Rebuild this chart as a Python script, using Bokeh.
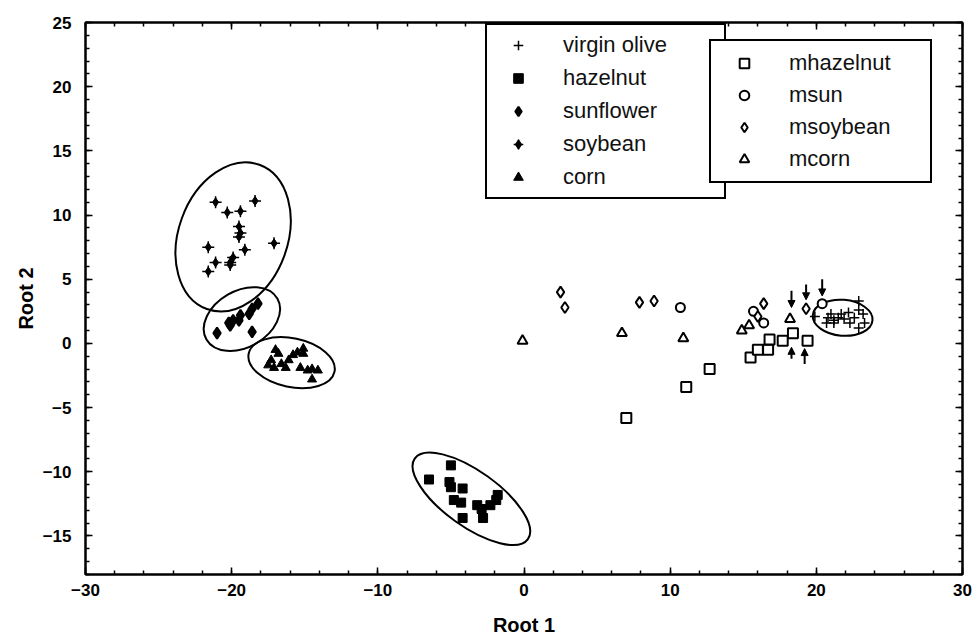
import numpy as np
from bokeh.plotting import figure
from bokeh.models import (ColumnDataSource, Range1d, LinearAxis, SingleIntervalTicker,
                          Legend, LegendItem, Arrow, NormalHead, CustomJSTickFormatter)
from bokeh.embed import file_html
from bokeh.resources import INLINE

# ---------------- data ----------------
olive_x = [19.9, 20.7, 20.8, 21.0, 21.2, 21.2, 21.5, 21.7, 21.9, 22.2, 22.3, 22.6, 22.9, 22.9, 22.9, 23.2, 23.3]
olive_y = [2.1, 1.6, 2.0, 2.3, 1.8, 1.6, 2.0, 2.3, 1.9, 2.4, 1.6, 2.0, 2.6, 1.2, 3.3, 2.3, 1.6]

hazel_x = [-5.0, -6.5, -5.1, -5.0, -4.2, -4.8, -4.3, -4.2, -3.2, -2.9, -2.8, -2.3, -1.8, -1.9]
hazel_y = [-9.5, -10.6, -10.8, -11.2, -11.3, -12.2, -12.4, -13.6, -12.6, -12.9, -13.6, -12.6, -11.8, -12.2]

sun_x = [-18.2, -18.6, -18.8, -19.4, -19.9, -20.2, -19.5, -21.0, -18.6, -20.1]
sun_y = [3.1, 2.7, 2.3, 2.2, 1.8, 1.6, 1.8, 0.8, 0.9, 1.4]

soy_x = [-21.1, -18.4, -20.3, -19.4, -19.5, -19.4, -19.5, -21.6, -19.1, -17.1, -19.9, -20.1, -20.1, -21.1, -21.6]
soy_y = [11.0, 11.1, 10.2, 10.3, 9.1, 8.6, 8.3, 7.5, 7.3, 7.8, 6.7, 6.3, 6.1, 6.3, 5.6]

corn_x = [-17.0, -16.8, -17.3, -17.5, -17.1, -16.6, -16.3, -16.1, -15.8, -15.5, -15.1, -15.1, -15.3, -14.8, -14.5, -14.1, -14.5]
corn_y = [-0.5, -0.8, -1.3, -1.7, -1.9, -1.6, -1.9, -1.3, -0.9, -0.7, -0.4, -0.8, -1.9, -2.1, -2.0, -2.1, -2.8]

mhazel_x = [7.0, 11.1, 12.7, 15.5, 16.0, 16.7, 16.8, 17.7, 18.4, 19.4]
mhazel_y = [-5.8, -3.4, -2.0, -1.1, -0.5, -0.5, 0.3, 0.2, 0.8, 0.2]

msun_x = [10.7, 15.7, 16.4, 20.4]
msun_y = [2.8, 2.5, 1.6, 3.1]

msoy_x = [2.5, 2.8, 7.9, 8.9, 16.4, 16.0, 19.3]
msoy_y = [4.0, 2.8, 3.2, 3.3, 3.1, 2.1, 2.7]

mcorn_x = [-0.1, 6.7, 10.9, 14.9, 15.4, 18.2]
mcorn_y = [0.2, 0.8, 0.4, 1.0, 1.4, 1.9]

# arrows (x, tail y, head y)
arrow_x = [18.3, 19.3, 20.4, 18.3, 19.2]
arrow_y0 = [4.1, 4.6, 5.0, -1.2, -1.6]
arrow_y1 = [2.8, 3.4, 3.7, -0.3, -0.4]

# group ellipses: centre, width (x units), height (y units), angle (deg)
ell_x = [-19.9, -19.3, -15.9, -3.6, 21.8]
ell_y = [8.3, 1.9, -1.5, -12.1, 2.0]
ell_w = [10.5, 5.6, 6.0, 9.5, 4.1]
ell_h = [8.5, 4.4, 3.8, 4.3, 2.8]
ell_a = [70, 30, -12, -35.5, -5]

FONT = "Liberation Sans"

p = figure(width=976, height=644, output_backend="svg", toolbar_location=None,
           x_range=Range1d(-30, 30), y_range=Range1d(-18, 25),
           min_border_left=85, min_border_right=14, min_border_top=22, min_border_bottom=70,
           x_axis_label="Root 1", y_axis_label="Root 2")
p.grid.visible = False
p.outline_line_color = "black"
p.outline_line_width = 2
p.background_fill_color = "white"
p.border_fill_color = "white"

p.xaxis.ticker = SingleIntervalTicker(interval=10, num_minor_ticks=5)
p.yaxis.ticker = SingleIntervalTicker(interval=5, num_minor_ticks=5)

def style_axis(ax):
    ax.axis_line_color = "black"
    ax.axis_line_width = 2
    ax.major_tick_in = 7
    ax.major_tick_out = 0
    ax.minor_tick_in = 4
    ax.minor_tick_out = 0
    ax.major_tick_line_width = 1.5
    ax.minor_tick_line_width = 1.5
    ax.major_label_text_font = FONT
    ax.major_label_text_font_style = "bold"
    ax.major_label_text_font_size = "17px"
    ax.major_label_text_color = "black"
    ax.axis_label_text_font = FONT
    ax.axis_label_text_font_style = "bold"
    ax.axis_label_text_font_size = "20px"
    ax.axis_label_text_color = "black"

style_axis(p.xaxis[0])
style_axis(p.yaxis[0])
p.xaxis[0].major_label_standoff = 9
p.xaxis[0].axis_label_standoff = 15
p.yaxis[0].major_label_standoff = 14
p.yaxis[0].axis_label_standoff = 3

blank = CustomJSTickFormatter(code="return ''")
top = LinearAxis(ticker=SingleIntervalTicker(interval=10, num_minor_ticks=5), formatter=blank)
right = LinearAxis(ticker=SingleIntervalTicker(interval=5, num_minor_ticks=5), formatter=blank)
for ax in (top, right):
    style_axis(ax)
    ax.major_label_standoff = 0
p.add_layout(top, "above")
p.add_layout(right, "right")

# ellipses
esrc = ColumnDataSource(dict(x=ell_x, y=ell_y, w=ell_w, h=ell_h, a=np.radians(ell_a)))
p.ellipse(x="x", y="y", width="w", height="h", angle="a", source=esrc,
          fill_color=None, line_color="black", line_width=2)

# filled groups
r_olive = p.scatter(olive_x, olive_y, marker="cross", size=10, line_color="black", line_width=1.5)
r_hazel = p.scatter(hazel_x, hazel_y, marker="square", size=9, fill_color="black", line_color="black")
r_sun = p.scatter(sun_x, sun_y, marker="diamond", size=11, fill_color="black", line_color="black", line_width=2)
r_soy = p.scatter(soy_x, soy_y, marker="diamond", size=9, fill_color="black", line_color="black")
r_soy2 = p.scatter(soy_x, soy_y, marker="cross", size=12, line_color="black", line_width=1.5)
r_corn = p.scatter(corn_x, corn_y, marker="triangle", size=9, fill_color="black", line_color="black")

# open groups
r_mhazel = p.scatter(mhazel_x, mhazel_y, marker="square", size=10, fill_color="white", line_color="black", line_width=2)
r_msun = p.scatter(msun_x, msun_y, marker="circle", size=9, fill_color="white", line_color="black", line_width=2)
r_msoy = p.scatter(msoy_x, msoy_y, marker="diamond", size=11, fill_color="white", line_color="black", line_width=2)
r_mcorn = p.scatter(mcorn_x, mcorn_y, marker="triangle", size=10, fill_color="white", line_color="black", line_width=2)

asrc = ColumnDataSource(dict(x=arrow_x, y0=arrow_y0, y1=arrow_y1))
p.add_layout(Arrow(x_start="x", y_start="y0", x_end="x", y_end="y1", source=asrc,
                   line_width=2, line_color="black",
                   end=NormalHead(size=7, fill_color="black", line_color="black")))

def make_legend(items, loc, pad, spacing, gw, standoff, lw):
    return Legend(items=items, location=loc, padding=pad, spacing=spacing, margin=0,
                  glyph_width=gw, glyph_height=24, label_height=24, label_width=lw,
                  label_standoff=standoff, border_line_color="black", border_line_width=2,
                  border_line_alpha=1.0,
                  background_fill_color="white", background_fill_alpha=1.0,
                  label_text_font=FONT, label_text_font_size="22px", label_text_color="#111111")

leg1 = make_legend([LegendItem(label="virgin olive", renderers=[r_olive]),
                    LegendItem(label="hazelnut", renderers=[r_hazel]),
                    LegendItem(label="sunflower", renderers=[r_sun]),
                    LegendItem(label="soybean", renderers=[r_soy, r_soy2]),
                    LegendItem(label="corn", renderers=[r_corn])],
                   (400, 375), 7, 7, 48, 21, 154)
leg2 = make_legend([LegendItem(label="mhazelnut", renderers=[r_mhazel]),
                    LegendItem(label="msun", renderers=[r_msun]),
                    LegendItem(label="msoybean", renderers=[r_msoy]),
                    LegendItem(label="mcorn", renderers=[r_mcorn])],
                   (624, 391), 9, 6, 48, 21, 132)
p.add_layout(leg1, "center")
p.add_layout(leg2, "center")

open("out.html", "w").write(file_html(p, INLINE))
